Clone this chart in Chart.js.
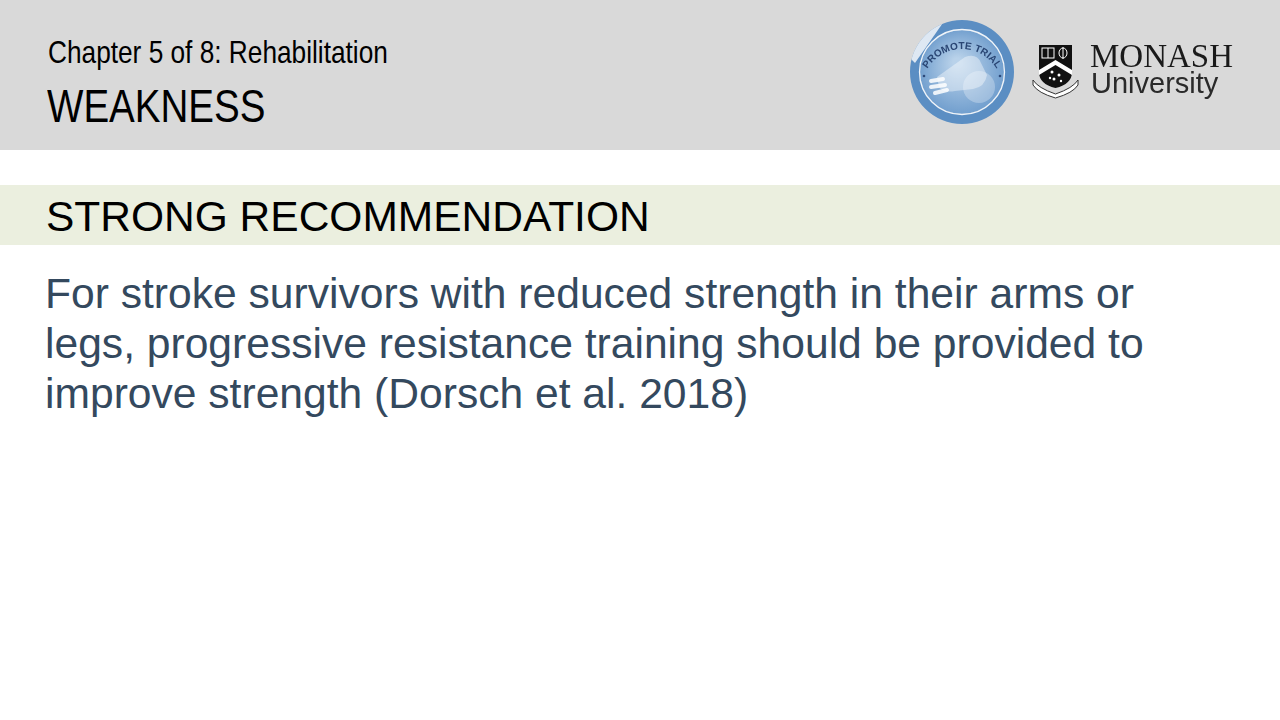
<!DOCTYPE html>
<html lang="en">

<head>
    <meta charset="UTF-8">
    <title>Weakness</title>
    <script src="https://cdn.jsdelivr.net/npm/chart.js"></script>
    <style>
        body { margin: 0; width: 1280px; height: 720px; background: #ffffff; position: relative; overflow: hidden; font-family: "Liberation Sans", Arial, sans-serif; }
        .cabecalho { position: absolute; left: 0; top: 0; width: 1280px; height: 150px; background: #d9d9d9; }
        .faixa { position: absolute; left: 0; top: 185px; width: 1280px; height: 60px; background: #ebefdf; }
        .txt { position: absolute; white-space: nowrap; line-height: 1; }
        .estreito { transform: scaleX(0.82); transform-origin: left top; }
        .capitulo { left: 48px; top: 36px; font-size: 32px; color: #000; }
        .titulo { left: 47px; top: 82px; font-size: 47px; color: #000; }
        .recomendacao { left: 46px; top: 196px; font-size: 42.5px; color: #000; }
        .corpo { position: absolute; left: 45px; top: 268px; white-space: nowrap; font-size: 42.6px; line-height: 50px; color: #34495e; }
        #divSelo { position: absolute; left: 907px; top: 17px; width: 110px; height: 110px; }
        #divSelo svg { position: absolute; left: 0; top: 0; }
        .logoMonash { position: absolute; left: 1090px; top: 43px; white-space: nowrap; }
        .monash { display: block; height: 28px; font-size: 33px; line-height: 26px; font-family: "Liberation Serif", serif; color: #1a1a1a; }
        .univ { display: block; margin-left: 1px; font-size: 29px; line-height: 24px; color: #2a2a2a; }
        #brasao { position: absolute; left: 1030px; top: 42px; }
    </style>
</head>

<body>
    <div class="cabecalho"></div>
    <div class="faixa"></div>

    <div class="txt capitulo estreito">Chapter 5 of 8: Rehabilitation</div>
    <div class="txt titulo estreito">WEAKNESS</div>
    <div class="txt recomendacao">STRONG RECOMMENDATION</div>
    <div class="corpo">For stroke survivors with reduced strength in their arms or<br>legs, progressive resistance training should be provided to<br>improve strength (Dorsch et al. 2018)</div>

    <div id="divSelo">
        <canvas id="seloChart" width="110" height="110"></canvas>
        <svg width="110" height="110" viewBox="0 0 110 110">
            <defs>
                <clipPath id="cortaSelo"><circle cx="55" cy="55" r="52"></circle></clipPath>
                <path id="arcoTexto" d="M 20.4 52 A 40 40 0 0 1 89.6 52"></path>
            </defs>
            <circle cx="55" cy="55" r="42.5" fill="none" stroke="#ffffff" stroke-width="1.3" opacity="0.9"></circle>
            <g clip-path="url(#cortaSelo)">
                <polygon points="0,38 28,0 40,0 8,46" fill="#ffffff" opacity="0.8"></polygon>
                <path d="M 30 60 L 58 40 Q 70 36 74 46 L 80 58 Q 78 70 66 72 L 48 74 Q 36 76 32 70 Z" fill="#ffffff" opacity="0.4"></path>
                <circle cx="72" cy="70" r="16" fill="#ffffff" opacity="0.28"></circle>
                <path d="M 24 64 L 36 62 M 24 70 L 38 68 M 28 76 L 40 73" stroke="#ffffff" stroke-width="4" stroke-linecap="round" opacity="0.85"></path>
            </g>
            <circle cx="17" cy="59" r="1.3" fill="#2d4a7a"></circle>
            <circle cx="93" cy="59" r="1.3" fill="#2d4a7a"></circle>
            <text font-family="Liberation Sans, sans-serif" font-weight="bold" font-size="10" fill="#2a4674">
                <textPath href="#arcoTexto" startOffset="50%" text-anchor="middle">PROMOTE TRIAL</textPath>
            </text>
        </svg>
    </div>

    <svg id="brasao" width="52" height="58" viewBox="0 0 52 58">
        <path d="M 9 3 L 42 3 L 42 30 Q 42 42 25.5 46 Q 9 42 9 30 Z" fill="#111"></path>
        <rect x="12" y="6" width="12" height="10" fill="none" stroke="#fff" stroke-width="1"></rect>
        <line x1="18" y1="6" x2="18" y2="16" stroke="#fff" stroke-width="1"></line>
        <ellipse cx="33" cy="11" rx="4" ry="5" fill="none" stroke="#fff" stroke-width="1"></ellipse>
        <line x1="33" y1="5" x2="33" y2="17" stroke="#fff" stroke-width="1"></line>
        <path d="M 9 28 L 25.5 18 L 42 28 L 42 33 L 25.5 23 L 9 33 Z" fill="#fff"></path>
        <circle cx="22" cy="30" r="1.5" fill="#fff"></circle>
        <circle cx="29" cy="33" r="1.5" fill="#fff"></circle>
        <circle cx="24" cy="37" r="1.5" fill="#fff"></circle>
        <circle cx="31" cy="39" r="1.2" fill="#fff"></circle>
        <circle cx="20" cy="36" r="1.2" fill="#fff"></circle>
        <path d="M 3 38 Q 8 46 25.5 52 Q 43 46 48 38 L 48 43 Q 43 51 25.5 56 Q 8 51 3 43 Z" fill="#fff" stroke="#333" stroke-width="1"></path>
    </svg>
    <div class="logoMonash">
        <span class="monash">MONASH</span>
        <span class="univ">University</span>
    </div>

    <script>
        // aneis do selo (externo e interno)
        let lista_aneis = ['Anel externo', 'Disco interno'];
        let lista_valores = [1];

        const ctx = document.getElementById('seloChart').getContext('2d');

        function corDisco(context) {
            const area = context.chart.chartArea;
            if (!area) return '#8fb4da';
            const cx = (area.left + area.right) / 2;
            const cy = (area.top + area.bottom) / 2;
            const grad = context.chart.ctx.createRadialGradient(cx - 5, cy - 10, 4, cx, cy, 44);
            grad.addColorStop(0, '#b9d2ea');
            grad.addColorStop(1, '#6f9dcd');
            return grad;
        }

        new Chart(ctx, {
            type: 'pie',
            data: {
                labels: lista_aneis,
                datasets: [{
                    label: lista_aneis[0],
                    data: lista_valores,
                    backgroundColor: '#5b8ec3',
                    borderWidth: 0,
                    weight: 10
                }, {
                    label: lista_aneis[1],
                    data: lista_valores,
                    backgroundColor: corDisco,
                    borderWidth: 0,
                    weight: 42
                }]
            },
            options: {
                responsive: false,
                animation: false,
                layout: { padding: 3 },
                plugins: {
                    legend: { display: false },
                    tooltip: { enabled: false }
                }
            }
        });
    </script>
</body>

</html>
